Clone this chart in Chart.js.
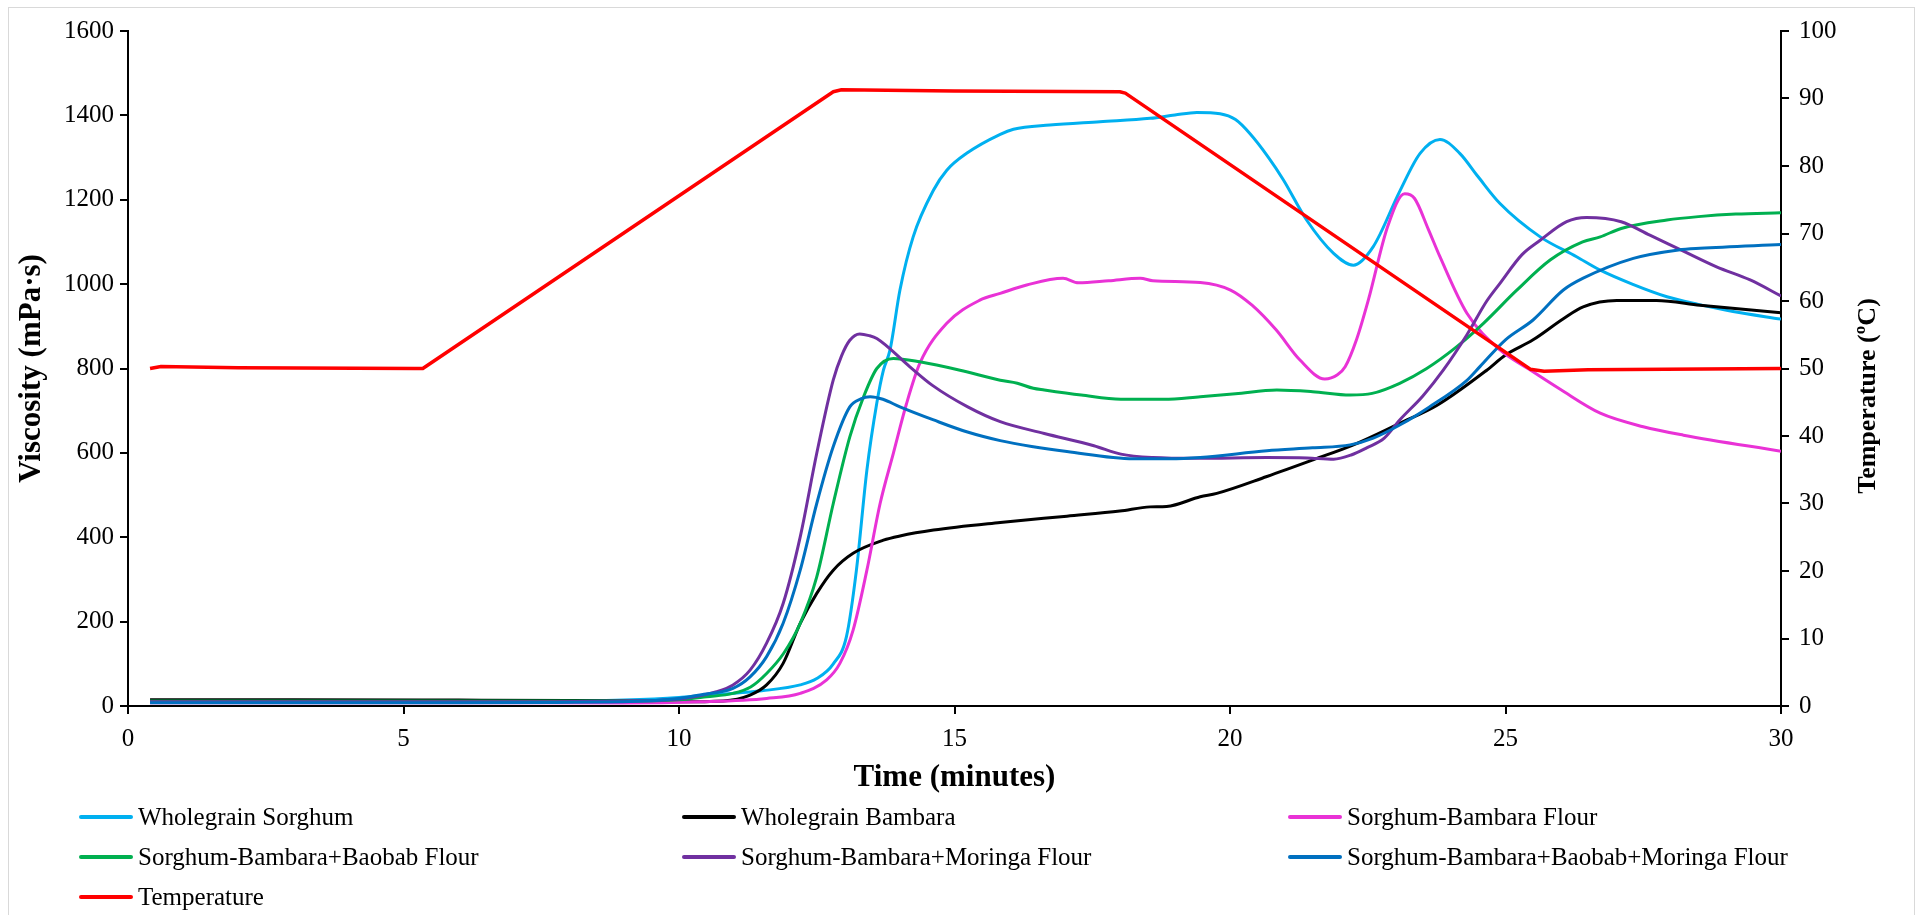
<!DOCTYPE html>
<html lang="en">
<head>
    <meta charset="UTF-8">
    <title>Pasting profile</title>
    <script src="https://cdn.jsdelivr.net/npm/chart.js"></script>
    <style>
        html, body {
            margin: 0;
            padding: 0;
            background: #ffffff;
            overflow: hidden;
        }
        body {
            width: 1921px;
            height: 915px;
            position: relative;
            font-family: 'Liberation Serif', 'Times New Roman', serif;
        }
        .frame {
            position: absolute;
            left: 8px;
            top: 7px;
            width: 1905px;
            height: 940px;
            border: 1.5px solid #d9d9d9;
        }
        #chartBox {
            position: absolute;
            left: 0;
            top: 0;
            width: 1921px;
            height: 915px;
        }
        #legend {
            position: absolute;
            left: 79px;
            top: 797px;
            display: grid;
            grid-template-columns: 603px 606px 560px;
            row-gap: 0;
        }
        .item {
            display: flex;
            align-items: center;
            height: 40px;
            font-size: 25px;
            color: #000;
            white-space: nowrap;
        }
        .item .swatch {
            width: 54px;
            height: 4px;
            border-radius: 2px;
            margin-right: 5px;
        }
    </style>
</head>
<body>
    <div class="frame"></div>
    <div id="chartBox"><canvas id="pasting"></canvas></div>
    <div id="legend"></div>

    <script>
        // time (min) / viscosity (mPa·s) for each flour
        const sorghumTime = [0.4, 3, 6, 8, 9, 10, 10.5, 11, 11.5, 12.2, 12.5, 12.8, 13.04, 13.22, 13.41, 13.59, 13.71, 13.83, 14.01, 14.25, 14.62, 14.86, 15.22, 15.83, 16.07, 16.73, 17.64, 18.55, 19.0, 19.4, 19.82, 20.1, 20.36, 20.7, 20.97, 21.39, 21.88, 22.24, 22.6, 23.08, 23.45, 23.81, 24.17, 24.5, 24.9, 25.63, 26.29, 26.72, 27.3, 27.93, 28.5, 29.13, 30];
        const sorghumVisc = [10, 10, 10, 12, 14, 20, 26, 30, 36, 50, 65, 100, 165, 322, 559, 718, 796, 844, 986, 1112, 1223, 1270, 1310, 1355, 1367, 1377, 1385, 1393, 1401, 1407, 1404, 1390, 1357, 1300, 1247, 1152, 1073, 1045, 1089, 1220, 1310, 1343, 1310, 1255, 1191, 1112, 1065, 1033, 1000, 970, 952, 935, 917];

        const bambaraTime = [0.4, 3, 6, 8, 9, 10, 10.8, 11.29, 11.59, 11.89, 12.2, 12.5, 12.8, 13.16, 13.71, 14.01, 14.62, 15.83, 17.04, 18.0, 18.55, 18.85, 19.46, 19.76, 20.67, 21.54, 22.24, 23.08, 23.76, 24.66, 25.0, 25.5, 26.05, 26.41, 27.02, 27.74, 28.53, 30];
        const bambaraVisc = [15, 15, 14, 13, 12, 10, 12, 26, 50, 101, 196, 267, 322, 362, 393, 403, 417, 435, 450, 462, 472, 473, 496, 504, 544, 585, 619, 670, 713, 796, 832, 868, 918, 946, 961, 961, 950, 932];

        const blendTime = [0.4, 3, 6, 9, 10.38, 11.59, 12.2, 12.68, 12.92, 13.16, 13.41, 13.65, 13.89, 14.13, 14.37, 14.86, 15.46, 15.83, 16.31, 16.97, 17.25, 17.8, 18.37, 18.6, 19.46, 20.01, 20.4, 20.84, 21.27, 21.72, 21.95, 22.09, 22.3, 22.51, 22.86, 23.17, 23.35, 23.6, 23.81, 24.3, 24.9, 25.43, 26.0, 26.72, 27.5, 28.23, 30];
        const blendVisc = [8, 8, 8, 7, 10, 18, 30, 62, 101, 180, 322, 480, 599, 717, 812, 907, 962, 978, 998, 1014, 1003, 1008, 1014, 1008, 1004, 986, 950, 891, 820, 775, 785, 804, 870, 962, 1136, 1214, 1203, 1130, 1065, 931, 844, 798, 750, 694, 662, 642, 604];

        const baobabTime = [0.4, 3, 6, 9, 10, 10.5, 10.98, 11.3, 11.59, 11.9, 12.2, 12.5, 12.8, 13.1, 13.35, 13.59, 13.89, 14.37, 15.1, 15.83, 16.14, 16.43, 16.63, 17.3, 18.02, 18.8, 19.46, 20.1, 20.85, 21.5, 22.18, 22.58, 23.08, 23.57, 24.1, 24.6, 25.2, 25.81, 26.4, 26.72, 27.1, 27.93, 28.5, 29.18, 30];
        const baobabVisc = [12, 12, 12, 12, 15, 22, 30, 45, 77, 125, 196, 306, 480, 638, 733, 800, 824, 816, 796, 772, 765, 753, 749, 737, 727, 727, 733, 740, 749, 745, 737, 741, 765, 800, 850, 907, 985, 1057, 1100, 1112, 1132, 1152, 1160, 1166, 1169];

        const moringaTime = [0.4, 3, 6, 9, 10.08, 10.68, 10.98, 11.29, 11.59, 11.89, 12.2, 12.5, 12.8, 12.95, 13.1, 13.28, 13.45, 13.59, 14.19, 14.6, 15.24, 15.83, 16.63, 17.53, 18.02, 18.6, 19.41, 20.67, 21.4, 21.88, 22.2, 22.48, 22.8, 23.08, 23.5, 23.87, 24.3, 24.66, 24.9, 25.3, 25.63, 26.11, 26.47, 27.1, 27.62, 28.2, 28.83, 29.44, 30];
        const moringaVisc = [10, 10, 10, 12, 18, 34, 50, 85, 149, 243, 401, 599, 773, 830, 867, 882, 878, 871, 804, 760, 709, 674, 646, 617, 597, 589, 587, 589, 588, 585, 595, 612, 635, 678, 735, 796, 880, 960, 1002, 1070, 1104, 1148, 1158, 1148, 1116, 1080, 1041, 1010, 972];

        const mixTime = [0.4, 3, 6, 9, 10, 10.38, 10.98, 11.29, 11.59, 11.89, 12.2, 12.5, 12.8, 13.1, 13.3, 13.47, 13.7, 14.01, 14.62, 15.22, 15.83, 16.4, 17.04, 18.25, 18.9, 19.46, 20.67, 21.5, 22.18, 22.6, 23.08, 23.62, 24.3, 24.54, 25.0, 25.5, 26.05, 26.41, 27.32, 28.14, 28.53, 30];
        const mixVisc = [8, 8, 8, 10, 18, 26, 42, 69, 117, 196, 322, 480, 615, 709, 728, 733, 727, 709, 678, 650, 629, 615, 603, 586, 586, 589, 605, 612, 619, 635, 666, 709, 772, 805, 868, 915, 986, 1014, 1061, 1081, 1085, 1094];

        // temperature programme (ºC)
        const tempTime = [0.4, 0.6, 2, 5.2, 5.35, 12.8, 12.95, 15, 18.0, 18.1, 25.45, 25.7, 26.5, 30];
        const tempValue = [50, 50.3, 50.1, 50, 50, 91.0, 91.3, 91.1, 91.0, 90.8, 49.9, 49.6, 49.8, 50];

        const seriesNames = [
            'Wholegrain Sorghum',
            'Wholegrain Bambara',
            'Sorghum-Bambara Flour',
            'Sorghum-Bambara+Baobab Flour',
            'Sorghum-Bambara+Moringa Flour',
            'Sorghum-Bambara+Baobab+Moringa Flour',
            'Temperature'
        ];
        const seriesColors = ['#00b0f0', '#000000', '#e932d6', '#00b050', '#7030a0', '#0070c0', '#ff0000'];

        const xTicks = [0, 5, 10, 15, 20, 25, 30];

        function toPoints(xs, ys) {
            return xs.map((x, i) => ({ x: x, y: ys[i] }));
        }

        const viscSeries = [
            [sorghumTime, sorghumVisc],
            [bambaraTime, bambaraVisc],
            [blendTime, blendVisc],
            [baobabTime, baobabVisc],
            [moringaTime, moringaVisc],
            [mixTime, mixVisc]
        ];

        const datasets = viscSeries.map((s, i) => ({
            label: seriesNames[i],
            data: toPoints(s[0], s[1]),
            borderColor: seriesColors[i],
            borderWidth: 3,
            pointRadius: 0,
            cubicInterpolationMode: 'monotone',
            yAxisID: 'y',
            order: 10 - i
        }));
        datasets.push({
            label: seriesNames[6],
            data: toPoints(tempTime, tempValue),
            borderColor: seriesColors[6],
            borderWidth: 3.5,
            pointRadius: 0,
            tension: 0,
            borderJoinStyle: 'round',
            yAxisID: 'y1',
            order: 3
        });

        Chart.defaults.font.family = "'Liberation Serif', 'Times New Roman', serif";
        Chart.defaults.color = '#000';

        const tickFont = { size: 25 };
        const titleFont = { size: 31, weight: 'bold' };
        const plain = (v) => String(v);

        // right-hand title reads bottom-to-top like the left one
        const rightTitle = {
            id: 'rightTitle',
            afterDraw(chart) {
                const ctx = chart.ctx;
                ctx.save();
                ctx.translate(1868, 396);
                ctx.rotate(-Math.PI / 2);
                ctx.font = "bold 26px 'Liberation Serif', 'Times New Roman', serif";
                ctx.fillStyle = '#000';
                ctx.textAlign = 'center';
                ctx.textBaseline = 'middle';
                ctx.fillText('Temperature (ºC)', 0, 0);
                ctx.restore();
            }
        };

        const axisGrid = {
            display: true,
            drawOnChartArea: false,
            drawTicks: true,
            tickLength: 8,
            color: '#000',
            lineWidth: 2
        };
        const axisBorder = { display: true, color: '#000', width: 2 };

        new Chart(document.getElementById('pasting'), {
            type: 'line',
            data: { datasets: datasets },
            options: {
                responsive: true,
                maintainAspectRatio: false,
                animation: false,
                layout: { padding: { left: 8, top: 31, right: 0, bottom: 114 } },
                plugins: {
                    legend: { display: false },
                    tooltip: { enabled: false }
                },
                scales: {
                    x: {
                        type: 'linear',
                        min: 0,
                        max: 30,
                        afterBuildTicks: (scale) => {
                            scale.ticks = xTicks.map(v => ({ value: v }));
                        },
                        afterFit: (scale) => { scale.height = 95; },
                        ticks: { font: tickFont, padding: 10, maxRotation: 0, callback: plain },
                        grid: axisGrid,
                        border: axisBorder,
                        title: {
                            display: true,
                            text: 'Time (minutes)',
                            font: titleFont,
                            padding: { top: 4, bottom: 4 }
                        }
                    },
                    y: {
                        position: 'left',
                        min: 0,
                        max: 1600,
                        ticks: { stepSize: 200, font: tickFont, padding: 6, callback: plain },
                        afterFit: (scale) => { scale.width = 120; },
                        grid: axisGrid,
                        border: axisBorder,
                        title: {
                            display: true,
                            text: 'Viscosity (mPa·s)',
                            font: titleFont,
                            padding: { top: 5, bottom: 4 }
                        }
                    },
                    y1: {
                        position: 'right',
                        min: 0,
                        max: 100,
                        ticks: { stepSize: 10, font: tickFont, padding: 10, callback: plain },
                        afterFit: (scale) => { scale.width = 140; },
                        grid: axisGrid,
                        border: axisBorder
                    }
                }
            },
            plugins: [rightTitle]
        });

        // legend in three columns under the plot
        const legend = document.getElementById('legend');
        seriesNames.forEach((name, i) => {
            const item = document.createElement('div');
            item.className = 'item';
            const swatch = document.createElement('span');
            swatch.className = 'swatch';
            swatch.style.background = seriesColors[i];
            const label = document.createElement('span');
            label.textContent = name;
            item.appendChild(swatch);
            item.appendChild(label);
            legend.appendChild(item);
        });
    </script>
</body>
</html>
